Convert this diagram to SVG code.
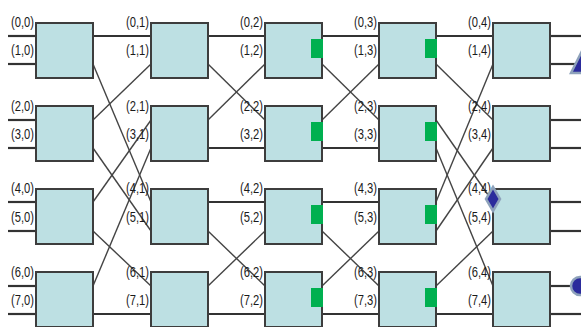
<svg xmlns="http://www.w3.org/2000/svg" width="581" height="327" viewBox="0 0 581 327">
<style>
.box{fill:#bde0e3;stroke:#3d3d3d;stroke-width:2}
.h{stroke:#333;stroke-width:2.2;fill:none}
.d{stroke:#444;stroke-width:1.4;fill:none}
.g{fill:#00b050}
.lbl{font-family:"Liberation Sans",Arial,sans-serif;font-size:15px;fill:#1a1a1a;text-anchor:end}
.mk{fill:#2b2b9c;stroke:#8ea2bb;stroke-width:2.5}
</style>
<rect width="581" height="327" fill="#ffffff"/>
<g id="connectors">
<g class="h">
<line x1="8" y1="36" x2="36" y2="36"/><line x1="8" y1="64" x2="36" y2="64"/>
<line x1="8" y1="120" x2="36" y2="120"/><line x1="8" y1="148" x2="36" y2="148"/>
<line x1="8" y1="202" x2="36" y2="202"/><line x1="8" y1="231" x2="36" y2="231"/>
<line x1="8" y1="286" x2="36" y2="286"/><line x1="8" y1="314" x2="36" y2="314"/>
<line x1="93" y1="36" x2="151" y2="36"/><line x1="93" y1="314" x2="151" y2="314"/>
<line x1="208" y1="36" x2="265" y2="36"/><line x1="208" y1="148" x2="265" y2="148"/>
<line x1="208" y1="202" x2="265" y2="202"/><line x1="208" y1="314" x2="265" y2="314"/>
<line x1="322" y1="36" x2="379" y2="36"/><line x1="322" y1="148" x2="379" y2="148"/>
<line x1="322" y1="202" x2="379" y2="202"/><line x1="322" y1="314" x2="379" y2="314"/>
<line x1="436" y1="36" x2="493" y2="36"/><line x1="436" y1="314" x2="493" y2="314"/>
<line x1="550" y1="36" x2="581" y2="36"/><line x1="550" y1="64" x2="575" y2="64"/>
<line x1="550" y1="120" x2="581" y2="120"/><line x1="550" y1="148" x2="581" y2="148"/>
<line x1="550" y1="202" x2="581" y2="202"/><line x1="550" y1="231" x2="581" y2="231"/>
<line x1="550" y1="286" x2="572" y2="286"/><line x1="550" y1="314" x2="581" y2="314"/>
</g>
<g class="d">
<line x1="93" y1="64" x2="151" y2="202"/><line x1="93" y1="120" x2="151" y2="64"/>
<line x1="93" y1="148" x2="151" y2="231"/><line x1="93" y1="202" x2="151" y2="120"/>
<line x1="93" y1="231" x2="151" y2="286"/><line x1="93" y1="286" x2="151" y2="148"/>
<line x1="208" y1="64" x2="265" y2="120"/><line x1="208" y1="120" x2="265" y2="64"/>
<line x1="208" y1="231" x2="265" y2="286"/><line x1="208" y1="286" x2="265" y2="231"/>
<line x1="322" y1="64" x2="379" y2="120"/><line x1="322" y1="120" x2="379" y2="64"/>
<line x1="322" y1="231" x2="379" y2="286"/><line x1="322" y1="286" x2="379" y2="231"/>
<line x1="436" y1="64" x2="493" y2="120"/><line x1="436" y1="120" x2="493" y2="202"/>
<line x1="436" y1="148" x2="493" y2="286"/><line x1="436" y1="202" x2="493" y2="64"/>
<line x1="436" y1="231" x2="493" y2="148"/><line x1="436" y1="286" x2="493" y2="231"/>
</g>
</g>
<g id="col0">
<g id="n00"><rect class="box" x="36" y="23" width="57" height="55"/></g>
<g id="n10"><rect class="box" x="36" y="106" width="57" height="55"/></g>
<g id="n20"><rect class="box" x="36" y="189" width="57" height="55"/></g>
<g id="n30"><rect class="box" x="36" y="272" width="57" height="55"/></g>
</g>
<g id="col1">
<g id="n01"><rect class="box" x="151" y="23" width="57" height="55"/></g>
<g id="n11"><rect class="box" x="151" y="106" width="57" height="55"/></g>
<g id="n21"><rect class="box" x="151" y="189" width="57" height="55"/></g>
<g id="n31"><rect class="box" x="151" y="272" width="57" height="55"/></g>
</g>
<g id="col2">
<g id="n02"><rect class="box" x="265" y="23" width="57" height="55"/><rect class="g" x="311" y="39" width="12" height="19"/></g>
<g id="n12"><rect class="box" x="265" y="106" width="57" height="55"/><rect class="g" x="311" y="122" width="12" height="19"/></g>
<g id="n22"><rect class="box" x="265" y="189" width="57" height="55"/><rect class="g" x="311" y="205" width="12" height="19"/></g>
<g id="n32"><rect class="box" x="265" y="272" width="57" height="55"/><rect class="g" x="311" y="288" width="12" height="19"/></g>
</g>
<g id="col3">
<g id="n03"><rect class="box" x="379" y="23" width="57" height="55"/><rect class="g" x="425" y="39" width="12" height="19"/></g>
<g id="n13"><rect class="box" x="379" y="106" width="57" height="55"/><rect class="g" x="425" y="122" width="12" height="19"/></g>
<g id="n23"><rect class="box" x="379" y="189" width="57" height="55"/><rect class="g" x="425" y="205" width="12" height="19"/></g>
<g id="n33"><rect class="box" x="379" y="272" width="57" height="55"/><rect class="g" x="425" y="288" width="12" height="19"/></g>
</g>
<g id="col4">
<g id="n04"><rect class="box" x="493" y="23" width="57" height="55"/></g>
<g id="n14"><rect class="box" x="493" y="106" width="57" height="55"/></g>
<g id="n24"><rect class="box" x="493" y="189" width="57" height="55"/></g>
<g id="n34"><rect class="box" x="493" y="272" width="57" height="55"/></g>
</g>
<g id="labels" class="lbl">
<text x="34" y="27" textLength="23" lengthAdjust="spacingAndGlyphs">(0,0)</text>
<text x="34" y="55" textLength="23" lengthAdjust="spacingAndGlyphs">(1,0)</text>
<text x="34" y="111" textLength="23" lengthAdjust="spacingAndGlyphs">(2,0)</text>
<text x="34" y="139" textLength="23" lengthAdjust="spacingAndGlyphs">(3,0)</text>
<text x="34" y="193" textLength="23" lengthAdjust="spacingAndGlyphs">(4,0)</text>
<text x="34" y="222" textLength="23" lengthAdjust="spacingAndGlyphs">(5,0)</text>
<text x="34" y="277" textLength="23" lengthAdjust="spacingAndGlyphs">(6,0)</text>
<text x="34" y="305" textLength="23" lengthAdjust="spacingAndGlyphs">(7,0)</text>
<text x="149" y="27" textLength="23" lengthAdjust="spacingAndGlyphs">(0,1)</text>
<text x="149" y="55" textLength="23" lengthAdjust="spacingAndGlyphs">(1,1)</text>
<text x="149" y="111" textLength="23" lengthAdjust="spacingAndGlyphs">(2,1)</text>
<text x="149" y="139" textLength="23" lengthAdjust="spacingAndGlyphs">(3,1)</text>
<text x="149" y="193" textLength="23" lengthAdjust="spacingAndGlyphs">(4,1)</text>
<text x="149" y="222" textLength="23" lengthAdjust="spacingAndGlyphs">(5,1)</text>
<text x="149" y="277" textLength="23" lengthAdjust="spacingAndGlyphs">(6,1)</text>
<text x="149" y="305" textLength="23" lengthAdjust="spacingAndGlyphs">(7,1)</text>
<text x="263" y="27" textLength="23" lengthAdjust="spacingAndGlyphs">(0,2)</text>
<text x="263" y="55" textLength="23" lengthAdjust="spacingAndGlyphs">(1,2)</text>
<text x="263" y="111" textLength="23" lengthAdjust="spacingAndGlyphs">(2,2)</text>
<text x="263" y="139" textLength="23" lengthAdjust="spacingAndGlyphs">(3,2)</text>
<text x="263" y="193" textLength="23" lengthAdjust="spacingAndGlyphs">(4,2)</text>
<text x="263" y="222" textLength="23" lengthAdjust="spacingAndGlyphs">(5,2)</text>
<text x="263" y="277" textLength="23" lengthAdjust="spacingAndGlyphs">(6,2)</text>
<text x="263" y="305" textLength="23" lengthAdjust="spacingAndGlyphs">(7,2)</text>
<text x="377" y="27" textLength="23" lengthAdjust="spacingAndGlyphs">(0,3)</text>
<text x="377" y="55" textLength="23" lengthAdjust="spacingAndGlyphs">(1,3)</text>
<text x="377" y="111" textLength="23" lengthAdjust="spacingAndGlyphs">(2,3)</text>
<text x="377" y="139" textLength="23" lengthAdjust="spacingAndGlyphs">(3,3)</text>
<text x="377" y="193" textLength="23" lengthAdjust="spacingAndGlyphs">(4,3)</text>
<text x="377" y="222" textLength="23" lengthAdjust="spacingAndGlyphs">(5,3)</text>
<text x="377" y="277" textLength="23" lengthAdjust="spacingAndGlyphs">(6,3)</text>
<text x="377" y="305" textLength="23" lengthAdjust="spacingAndGlyphs">(7,3)</text>
<text x="491" y="27" textLength="23" lengthAdjust="spacingAndGlyphs">(0,4)</text>
<text x="491" y="55" textLength="23" lengthAdjust="spacingAndGlyphs">(1,4)</text>
<text x="491" y="111" textLength="23" lengthAdjust="spacingAndGlyphs">(2,4)</text>
<text x="491" y="139" textLength="23" lengthAdjust="spacingAndGlyphs">(3,4)</text>
<text x="491" y="193" textLength="23" lengthAdjust="spacingAndGlyphs">(4,4)</text>
<text x="491" y="222" textLength="23" lengthAdjust="spacingAndGlyphs">(5,4)</text>
<text x="491" y="277" textLength="23" lengthAdjust="spacingAndGlyphs">(6,4)</text>
<text x="491" y="305" textLength="23" lengthAdjust="spacingAndGlyphs">(7,4)</text>
</g>
<g id="markers">
<polygon class="mk" points="571,73 581,53 591,73"/>
<polygon class="mk" points="493,187 500,199 493,211 486,199"/>
<circle class="mk" cx="580" cy="286" r="9"/>
</g>
</svg>
